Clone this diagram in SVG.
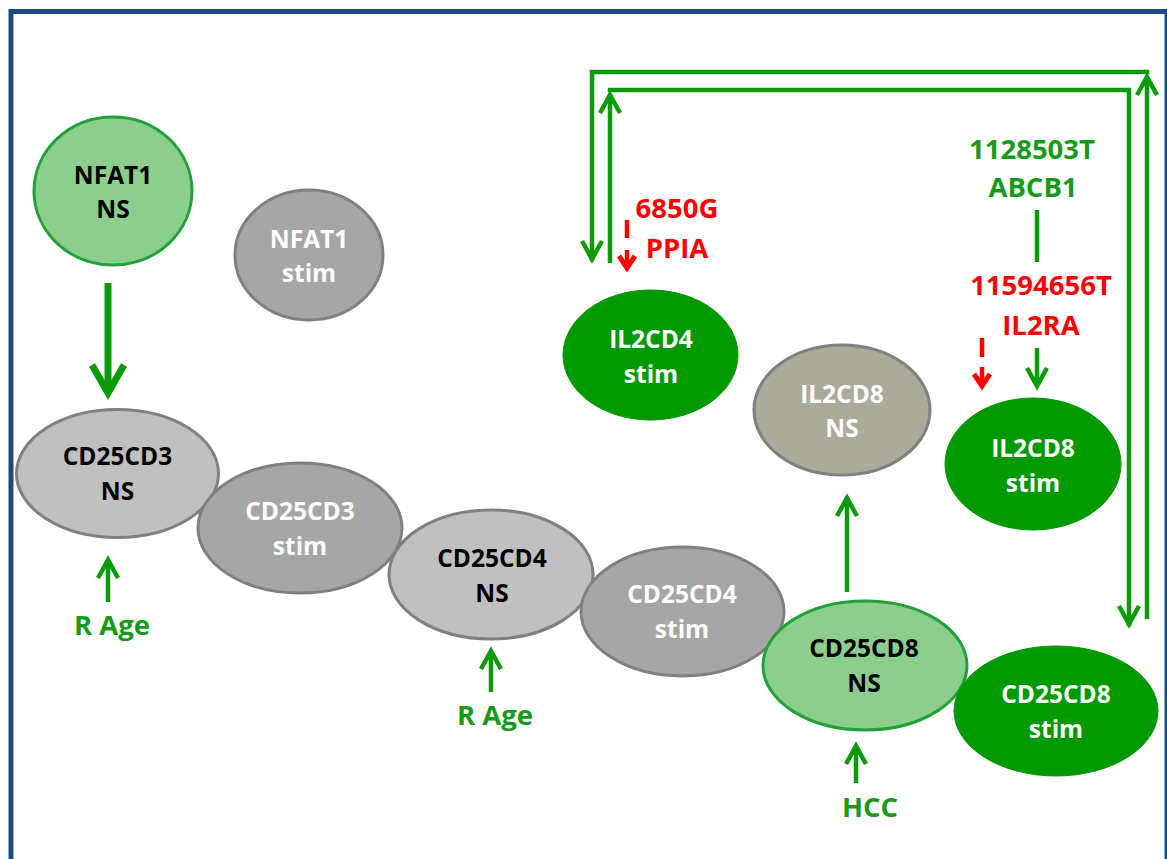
<svg xmlns="http://www.w3.org/2000/svg" width="1167" height="859" viewBox="0 0 1167 859">
<style>
  .t { font-family: "Open Sans", "Liberation Sans", sans-serif; font-weight: bold; font-size: 24.5px; text-anchor: middle; }
  .lbl { font-family: "Open Sans", "Liberation Sans", sans-serif; font-weight: bold; font-size: 27.5px; text-anchor: middle; }
  .blk { fill: #000000; }
  .wht { fill: #ffffff; }
  .gtx { fill: #179a17; }
  .rtx { fill: #ff0000; }
  .lg { fill: #8ccf8c; stroke: #22a03a; stroke-width: 3; }
  .dg { fill: #009900; stroke: #009900; stroke-width: 1; }
  .g1 { fill: #c0c0c0; stroke: #808080; stroke-width: 3; }
  .g2 { fill: #a6a6a6; stroke: #808080; stroke-width: 3; }
  .g3 { fill: #abaa9b; stroke: #808080; stroke-width: 3; }
  .cg { fill: none; stroke: #0a9a0a; stroke-width: 4.5; }
  .cr { fill: none; stroke: #ff0000; stroke-width: 4.5; }
</style>
<defs>
  <marker id="ag" markerUnits="userSpaceOnUse" markerWidth="30" markerHeight="30" refX="0" refY="0" orient="auto" style="overflow:visible">
    <path d="M-18,-10 L0,0 L-18,10" fill="none" stroke="#0a9a0a" stroke-width="4.5"/>
  </marker>
  <marker id="agb" markerUnits="userSpaceOnUse" markerWidth="40" markerHeight="40" refX="0" refY="0" orient="auto" style="overflow:visible">
    <path d="M-28,-16 L0,0 L-28,16" fill="none" stroke="#0a9a0a" stroke-width="7"/>
  </marker>
  <marker id="ar" markerUnits="userSpaceOnUse" markerWidth="20" markerHeight="20" refX="0" refY="0" orient="auto" style="overflow:visible">
    <path d="M-12,-8 L0,0 L-12,8" fill="none" stroke="#ff0000" stroke-width="5"/>
  </marker>
</defs>
<rect x="0" y="0" width="1167" height="859" fill="#ffffff"/>
<rect x="11" y="11.5" width="1156" height="900" fill="none" stroke="#1f497d" stroke-width="5"/>

<g id="connectors">
  <line class="cg" x1="108" y1="283" x2="108" y2="393" style="stroke-width:7" marker-end="url(#agb)"/>
  <line class="cg" x1="108" y1="602" x2="108" y2="560" marker-end="url(#ag)"/>
  <line class="cg" x1="491" y1="692" x2="491" y2="651" marker-end="url(#ag)"/>
  <line class="cg" x1="856" y1="783" x2="856" y2="746" marker-end="url(#ag)"/>
  <line class="cg" x1="847" y1="592" x2="847" y2="498" marker-end="url(#ag)"/>
  <line class="cg" x1="1037" y1="210" x2="1037" y2="262"/>
  <line class="cg" x1="1037" y1="348" x2="1037" y2="386" marker-end="url(#ag)"/>
  <line class="cr" x1="627" y1="220" x2="627" y2="268" stroke-dasharray="18 12 100" marker-end="url(#ar)"/>
  <line class="cr" x1="982" y1="338" x2="982" y2="386" stroke-dasharray="19 10 100" marker-end="url(#ar)"/>
  <path class="cg" d="M1147,619 V77" marker-end="url(#ag)"/>
  <path class="cg" d="M1147,72 H592 V259" stroke-linecap="square" marker-end="url(#ag)"/>
  <path class="cg" d="M610,263 V95" marker-end="url(#ag)"/>
  <path class="cg" d="M610,90 H1129 V624" stroke-linecap="square" marker-end="url(#ag)"/>
</g>

<g id="nfat1-ns">
  <ellipse class="lg" cx="113" cy="191" rx="79" ry="74"/>
  <text class="t blk" x="113" y="184">NFAT1</text>
  <text class="t blk" x="113" y="218">NS</text>
</g>
<g id="nfat1-stim">
  <ellipse class="g2" cx="309" cy="255" rx="74" ry="65"/>
  <text class="t wht" x="309" y="248">NFAT1</text>
  <text class="t wht" x="309" y="282">stim</text>
</g>
<g id="cd25cd3-ns">
  <ellipse class="g1" cx="117.5" cy="473.5" rx="101" ry="64"/>
  <text class="t blk" x="117.5" y="465">CD25CD3</text>
  <text class="t blk" x="117.5" y="500">NS</text>
</g>
<g id="cd25cd3-stim">
  <ellipse class="g2" cx="300" cy="528" rx="102" ry="65"/>
  <text class="t wht" x="300" y="520">CD25CD3</text>
  <text class="t wht" x="300" y="555">stim</text>
</g>
<g id="cd25cd4-ns">
  <ellipse class="g1" cx="491" cy="574.5" rx="102" ry="64.5"/>
  <text class="t blk" x="492" y="567">CD25CD4</text>
  <text class="t blk" x="492" y="602">NS</text>
</g>
<g id="cd25cd4-stim">
  <ellipse class="g2" cx="682.5" cy="611.5" rx="101.5" ry="64.5"/>
  <text class="t wht" x="682" y="603">CD25CD4</text>
  <text class="t wht" x="682" y="638">stim</text>
</g>
<g id="il2cd4-stim">
  <ellipse class="dg" cx="650.5" cy="355" rx="87.5" ry="65"/>
  <text class="t wht" x="651" y="348">IL2CD4</text>
  <text class="t wht" x="651" y="383">stim</text>
</g>
<g id="il2cd8-ns">
  <ellipse class="g3" cx="842" cy="410" rx="88" ry="65"/>
  <text class="t wht" x="842" y="403">IL2CD8</text>
  <text class="t wht" x="842" y="437">NS</text>
</g>
<g id="il2cd8-stim">
  <ellipse class="dg" cx="1033" cy="464" rx="88" ry="66"/>
  <text class="t wht" x="1033" y="457">IL2CD8</text>
  <text class="t wht" x="1033" y="492">stim</text>
</g>
<g id="cd25cd8-ns">
  <ellipse class="lg" cx="865" cy="665.5" rx="102" ry="64.5"/>
  <text class="t blk" x="864" y="657">CD25CD8</text>
  <text class="t blk" x="864" y="692">NS</text>
</g>
<g id="cd25cd8-stim">
  <ellipse class="dg" cx="1056" cy="711" rx="102" ry="65"/>
  <text class="t wht" x="1056" y="703">CD25CD8</text>
  <text class="t wht" x="1056" y="738">stim</text>
</g>

<g id="labels">
  <text class="lbl gtx" x="112" y="635">R Age</text>
  <text class="lbl gtx" x="495" y="725">R Age</text>
  <text class="lbl gtx" x="870" y="817">HCC</text>
  <text class="lbl rtx" x="677" y="218">6850G</text>
  <text class="lbl rtx" x="677" y="258">PPIA</text>
  <text class="lbl gtx" x="1032" y="159">1128503T</text>
  <text class="lbl gtx" x="1033" y="197">ABCB1</text>
  <text class="lbl rtx" x="1041" y="295">11594656T</text>
  <text class="lbl rtx" x="1041" y="335">IL2RA</text>
</g>
</svg>
